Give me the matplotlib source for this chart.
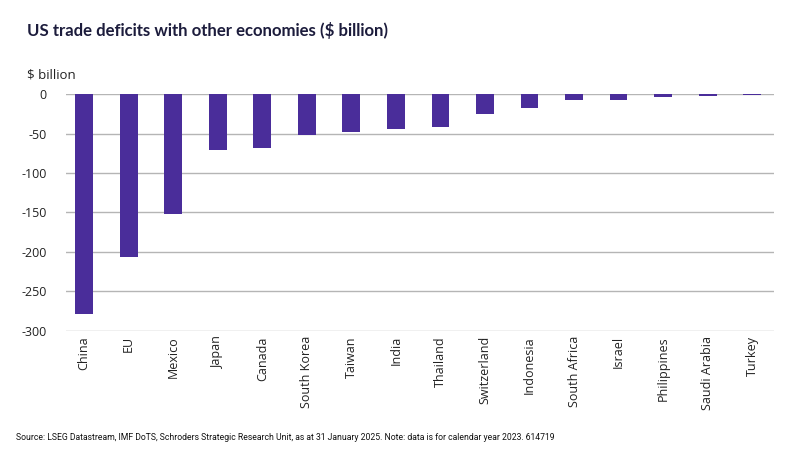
import matplotlib.pyplot as plt

# Data ($ billion, calendar year 2023)
countries = ['China', 'EU', 'Mexico', 'Japan', 'Canada', 'South Korea', 'Taiwan',
             'India', 'Thailand', 'Switzerland', 'Indonesia', 'South Africa',
             'Israel', 'Philippines', 'Saudi Arabia', 'Turkey']
deficits = [-279, -207, -152, -71, -68, -51, -48, -44, -41, -25, -17, -7, -7, -4, -2, -1]
yticks = [0, -50, -100, -150, -200, -250, -300]

plt.rcParams['font.family'] = ['Open Sans', 'DejaVu Sans']

fig = plt.figure(figsize=(8, 4.67), dpi=100)
ax = fig.add_axes([0.083, 0.292, 0.885, 0.506])

x = range(len(countries))
ax.bar(x, deficits, width=0.4, color='#4a2d9a', zorder=3)

ax.set_ylim(-300, 0)
ax.set_xlim(-0.4, len(countries) - 0.5)
ax.set_yticks(yticks)
ax.set_yticklabels([str(v) for v in yticks], fontsize=9, color='#222222')
ax.set_xticks(list(x))
ax.set_xticklabels(countries, rotation=90, fontsize=9, color='#222222')
ax.tick_params(axis='both', length=0, pad=4)
ax.tick_params(axis='y', pad=14)

ax.grid(axis='y', color='#b5b5b5', linewidth=1, zorder=0)
for s in ax.spines.values():
    s.set_visible(False)

fig.text(0.034, 0.935, 'US trade deficits with other economies ($ billion)',
         fontsize=12.1, fontweight='bold', color='#1c1c3c', va='center', family='Lato')
fig.text(0.034, 0.84, '$ billion', fontsize=9.5, color='#222222', va='center')
fig.text(0.02, 0.064, 'Source: LSEG Datastream, IMF DoTS, Schroders Strategic Research Unit, '
         'as at 31 January 2025. Note: data is for calendar year 2023. 614719',
         fontsize=6.2, color='#111111', va='center', family='Roboto')

plt.savefig('out.png', dpi=100)
